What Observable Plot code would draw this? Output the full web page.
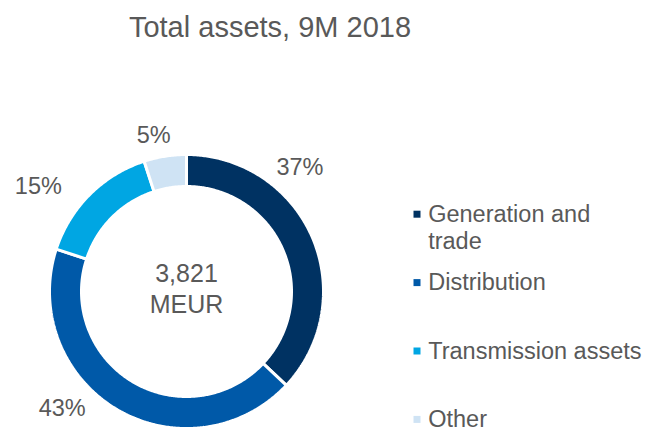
<!DOCTYPE html>
<html><head><meta charset="utf-8">
<script src="https://cdn.jsdelivr.net/npm/d3@7"></script>
<script src="https://cdn.jsdelivr.net/npm/@observablehq/plot@0.6"></script>
<style>
body{margin:0;background:#fff;font-family:"Liberation Sans",Arial,sans-serif}
#title{width:540px;text-align:center;font-size:29px;color:#595959;height:46px;line-height:46px;padding-top:4px;white-space:nowrap}
</style></head><body>
<div id="title"></div>
<div id="chart"></div>
<script>
// ---- data ----
const titleText = "Total assets, 9M 2018";
const categories = ["Generation and trade", "Distribution", "Transmission assets", "Other"];
const legendLabels = ["Generation and\ntrade", "Distribution", "Transmission assets", "Other"];
const shares = [37, 43, 15, 5];
const percentLabels = ["37%", "43%", "15%", "5%"];
const totalValue = "3,821";
const totalUnit = "MEUR";

// ---- style / layout ----
const colors = ["#003262", "#0059A8", "#00A6E3", "#CFE3F4"];
const textColor = "#595959";
const W = 650, H = 381;
const cx = 186, cy = 241, rOuter = 137, rInner = 105;
const labelFrac = [0.118, 0.630, 0.848, 0.967];
const labelRad = [168, 170.5, 181.5, 159.5];
const legendX = 416.5, legendTextX = 427.7, legendY0 = 163.7, legendStep = 68.4;

document.getElementById("title").textContent = titleText;

const pie = d3.pie().sort(null).value(d => d)(shares);
const ringPts = [];
pie.forEach((p, i) => {
  const n = Math.max(8, Math.ceil((p.endAngle - p.startAngle) / 0.01));
  for (let k = 0; k <= n; k++) {
    const a = p.startAngle + (p.endAngle - p.startAngle) * k / n;
    ringPts.push({cat: categories[i], x: cx + rOuter * Math.sin(a), y: cy - rOuter * Math.cos(a)});
  }
  for (let k = n; k >= 0; k--) {
    const a = p.startAngle + (p.endAngle - p.startAngle) * k / n;
    ringPts.push({cat: categories[i], x: cx + rInner * Math.sin(a), y: cy - rInner * Math.cos(a)});
  }
});

const pctData = percentLabels.map((t, i) => {
  const a = labelFrac[i] * 2 * Math.PI;
  return {t, x: cx + labelRad[i] * Math.sin(a), y: cy - labelRad[i] * Math.cos(a)};
});

const legendData = categories.map((c, i) => ({cat: c, label: legendLabels[i], x: legendX, tx: legendTextX, y: legendY0 + i * legendStep}));

const chart = Plot.plot({
  width: W, height: H,
  margin: 0,
  x: {domain: [0, W], range: [0, W], axis: null},
  y: {domain: [0, H], range: [0, H], axis: null},
  color: {domain: categories, range: colors},
  style: {fontFamily: "'Liberation Sans', Arial, sans-serif", background: "white"},
  marks: [
    Plot.line(ringPts, {x: "x", y: "y", z: "cat", fill: "cat", stroke: "white", strokeWidth: 3, strokeLinejoin: "miter", curve: "linear-closed"}),
    Plot.text(pctData, {x: "x", y: "y", text: "t", fontSize: 23.5, fill: textColor, textAnchor: "middle"}),
    Plot.text([`${totalValue}\n${totalUnit}`], {x: () => cx, y: () => cy - 31, text: d => d, fontSize: 25, lineHeight: 1.228, lineAnchor: "top", fill: textColor}),
    Plot.dot(legendData, {x: "x", y: "y", fill: "cat", symbol: "square", r: 3.95}),
    Plot.text(legendData, {x: "tx", y: "y", text: "label", textAnchor: "start", lineAnchor: "top", dy: -11.5, fontSize: 23.5, lineHeight: 1.15, fill: textColor})
  ]
});
document.getElementById("chart").appendChild(chart);
</script>
</body></html>
